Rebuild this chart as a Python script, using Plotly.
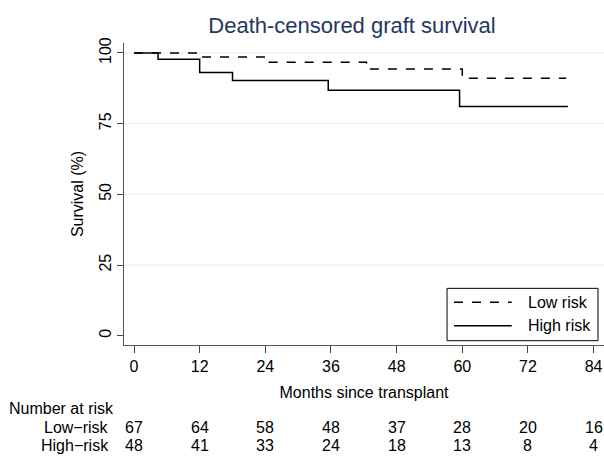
import plotly.graph_objects as go

# Kaplan-Meier step data (months, survival %)
low_months = [0, 12, 24, 42.5, 60, 79]
low_surv = [100, 98.6, 96.7, 94.3, 91.1, 91.1]
high_months = [0, 4.4, 12, 18, 35.5, 59.5, 79.3]
high_surv = [100, 97.8, 93.1, 90.3, 86.8, 81.1, 81.1]

# Number at risk table
risk_times = [0, 12, 24, 36, 48, 60, 72, 84]
low_at_risk = [67, 64, 58, 48, 37, 28, 20, 16]
high_at_risk = [48, 41, 33, 24, 18, 13, 8, 4]

x_ticks = [0, 12, 24, 36, 48, 60, 72, 84]
y_ticks = [0, 25, 50, 75, 100]

FONT = "Liberation Sans, Arial, sans-serif"

fig = go.Figure()
fig.add_trace(go.Scatter(x=low_months, y=low_surv, mode="lines", line_shape="hv",
                         name="Low risk", line=dict(color="black", width=1.5, dash="dash"),
                         showlegend=False))
fig.add_trace(go.Scatter(x=high_months, y=high_surv, mode="lines", line_shape="hv",
                         name="High risk", line=dict(color="black", width=1.5),
                         showlegend=False))

# gridlines (not at 0)
for v in y_ticks:
    if v > 0:
        fig.add_hline(y=v, line=dict(color="#e3eef1", width=1), layer="below")

# manual legend box
fig.add_shape(type="rect", xref="paper", yref="paper", x0=0.673, x1=0.9875, y0=0.0142, y1=0.1876,
              line=dict(color="black", width=1), fillcolor="white")
fig.add_shape(type="line", xref="paper", yref="paper", x0=0.6875, x1=0.8077, y0=0.1412, y1=0.1412,
              line=dict(color="black", width=1.5, dash="dash"))
fig.add_shape(type="line", xref="paper", yref="paper", x0=0.6875, x1=0.8077, y0=0.0638, y1=0.0638,
              line=dict(color="black", width=1.5))
fig.add_annotation(text="Low risk", xref="paper", yref="paper", x=0.8369, y=0.1412,
                   xanchor="left", yanchor="middle", showarrow=False, font=dict(size=16, color="black"))
fig.add_annotation(text="High risk", xref="paper", yref="paper", x=0.8369, y=0.0638,
                   xanchor="left", yanchor="middle", showarrow=False, font=dict(size=16, color="black"))

# number at risk table
fig.add_annotation(text="Number at risk", xref="paper", yref="paper", x=-0.2444, y=-0.2117,
                   xanchor="left", yanchor="middle", showarrow=False, font=dict(size=16, color="black"))
fig.add_annotation(text="Low\u2212risk", xref="paper", yref="paper", x=-0.0271, y=-0.2722,
                   xanchor="right", yanchor="middle", showarrow=False, font=dict(size=16, color="black"))
fig.add_annotation(text="High\u2212risk", xref="paper", yref="paper", x=-0.0271, y=-0.3341,
                   xanchor="right", yanchor="middle", showarrow=False, font=dict(size=16, color="black"))
for t, n in zip(risk_times, low_at_risk):
    fig.add_annotation(text=str(n), xref="x", yref="paper", x=t, y=-0.2722,
                       xanchor="center", yanchor="middle", showarrow=False, font=dict(size=16, color="black"))
for t, n in zip(risk_times, high_at_risk):
    fig.add_annotation(text=str(n), xref="x", yref="paper", x=t, y=-0.3341,
                       xanchor="center", yanchor="middle", showarrow=False, font=dict(size=16, color="black"))

fig.update_layout(
    width=604, height=456,
    margin=dict(l=124, r=0, t=43, b=111),
    paper_bgcolor="white", plot_bgcolor="white",
    font=dict(family=FONT, size=16, color="black"),
    title=dict(text="Death-censored graft survival", x=352 / 604, xanchor="center",
               y=1 - 25 / 456, yanchor="middle", font=dict(size=22, color="#1f3763")),
    showlegend=False,
    xaxis=dict(range=[-1.83, 85.9], tickvals=x_ticks, ticks="outside", ticklen=7,
               tickcolor="#444", showline=True, linecolor="#555", linewidth=1.2,
               showgrid=False, zeroline=False,
               title=dict(text="Months since transplant", standoff=12, font=dict(size=16))),
    yaxis=dict(range=[-3.29, 103.53], tickvals=y_ticks, ticks="outside", ticklen=6,
               tickcolor="#444", showline=True, linecolor="#555", linewidth=1.2,
               showgrid=False, zeroline=False, tickangle=-90,
               title=dict(text="Survival (%)", standoff=8, font=dict(size=16))),
)

fig.write_html("out.html")
